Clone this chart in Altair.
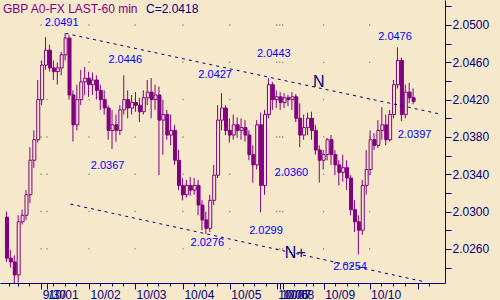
import altair as alt
import pandas as pd
import itertools

# ---------------- data (2-hour candles) ----------------
opens = [2.0294, 2.0250, 2.0246, 2.0232, 2.0289, 2.0296, 2.0318, 2.0355, 2.0377, 2.0420,
         2.0457, 2.0473, 2.0454, 2.0450, 2.0454, 2.0468, 2.0486, 2.0425, 2.0393, 2.0420,
         2.0439, 2.0443, 2.0436, 2.0441, 2.0430, 2.0420, 2.0411, 2.0387, 2.0393, 2.0387,
         2.0409, 2.0420, 2.0411, 2.0417, 2.0414, 2.0407, 2.0422, 2.0428, 2.0420, 2.0425,
         2.0398, 2.0404, 2.0382, 2.0387, 2.0355, 2.0328, 2.0318, 2.0328, 2.0323, 2.0328,
         2.0307, 2.0291, 2.0282, 2.0312, 2.0339, 2.0398, 2.0411, 2.0387, 2.0382, 2.0393,
         2.0387, 2.0390, 2.0382, 2.0361, 2.0350, 2.0393, 2.0328, 2.0404, 2.0436, 2.0420,
         2.0423, 2.0417, 2.0422, 2.0420, 2.0423, 2.0400, 2.0382, 2.0390, 2.0400, 2.0387,
         2.0366, 2.0355, 2.0361, 2.0377, 2.0361, 2.0350, 2.0342, 2.0347, 2.0336, 2.0302,
         2.0289, 2.0280, 2.0328, 2.0345, 2.0377, 2.0371, 2.0387, 2.0393, 2.0377, 2.0404,
         2.0436, 2.0462, 2.0404, 2.0428, 2.0422]
highs = [2.0300, 2.0259, 2.0253, 2.0296, 2.0302, 2.0323, 2.0369, 2.0387, 2.0441, 2.0462,
         2.0487, 2.0479, 2.0462, 2.0460, 2.0471, 2.0491, 2.0489, 2.0430, 2.0436, 2.0452,
         2.0455, 2.0450, 2.0449, 2.0446, 2.0436, 2.0430, 2.0414, 2.0409, 2.0404, 2.0414,
         2.0446, 2.0430, 2.0425, 2.0428, 2.0422, 2.0430, 2.0441, 2.0443, 2.0436, 2.0434,
         2.0420, 2.0409, 2.0404, 2.0393, 2.0366, 2.0336, 2.0334, 2.0337, 2.0336, 2.0334,
         2.0312, 2.0300, 2.0318, 2.0350, 2.0414, 2.0427, 2.0414, 2.0400, 2.0404, 2.0401,
         2.0400, 2.0398, 2.0387, 2.0371, 2.0398, 2.0406, 2.0409, 2.0443, 2.0439, 2.0430,
         2.0428, 2.0427, 2.0425, 2.0428, 2.0426, 2.0416, 2.0404, 2.0406, 2.0407, 2.0393,
         2.0371, 2.0366, 2.0379, 2.0382, 2.0366, 2.0355, 2.0361, 2.0355, 2.0339, 2.0312,
         2.0296, 2.0334, 2.0366, 2.0387, 2.0384, 2.0398, 2.0412, 2.0404, 2.0409, 2.0441,
         2.0476, 2.0465, 2.0436, 2.0438, 2.0432]
lows = [2.0246, 2.0240, 2.0223, 2.0224, 2.0286, 2.0291, 2.0309, 2.0347, 2.0374, 2.0414,
        2.0452, 2.0450, 2.0441, 2.0436, 2.0446, 2.0462, 2.0420, 2.0375, 2.0387, 2.0414,
        2.0425, 2.0423, 2.0425, 2.0420, 2.0409, 2.0404, 2.0377, 2.0367, 2.0375, 2.0382,
        2.0404, 2.0400, 2.0404, 2.0407, 2.0396, 2.0404, 2.0414, 2.0400, 2.0409, 2.0339,
        2.0361, 2.0377, 2.0371, 2.0350, 2.0323, 2.0312, 2.0315, 2.0317, 2.0318, 2.0296,
        2.0280, 2.0276, 2.0278, 2.0307, 2.0336, 2.0387, 2.0382, 2.0374, 2.0377, 2.0379,
        2.0377, 2.0375, 2.0355, 2.0331, 2.0345, 2.0299, 2.0318, 2.0400, 2.0409, 2.0411,
        2.0409, 2.0411, 2.0413, 2.0409, 2.0396, 2.0369, 2.0377, 2.0382, 2.0377, 2.0361,
        2.0331, 2.0345, 2.0355, 2.0350, 2.0339, 2.0328, 2.0332, 2.0323, 2.0296, 2.0278,
        2.0254, 2.0275, 2.0318, 2.0339, 2.0366, 2.0368, 2.0377, 2.0371, 2.0375, 2.0400,
        2.0432, 2.0397, 2.0400, 2.0416, 2.0415]
closes = [2.0250, 2.0246, 2.0232, 2.0289, 2.0296, 2.0318, 2.0355, 2.0377, 2.0420, 2.0457,
          2.0473, 2.0454, 2.0450, 2.0454, 2.0468, 2.0486, 2.0425, 2.0393, 2.0420, 2.0439,
          2.0443, 2.0436, 2.0441, 2.0430, 2.0420, 2.0411, 2.0387, 2.0393, 2.0387, 2.0409,
          2.0420, 2.0411, 2.0417, 2.0414, 2.0407, 2.0422, 2.0428, 2.0420, 2.0425, 2.0398,
          2.0404, 2.0382, 2.0387, 2.0355, 2.0328, 2.0318, 2.0328, 2.0323, 2.0328, 2.0307,
          2.0291, 2.0282, 2.0312, 2.0339, 2.0398, 2.0411, 2.0387, 2.0382, 2.0393, 2.0387,
          2.0390, 2.0382, 2.0361, 2.0350, 2.0393, 2.0328, 2.0404, 2.0436, 2.0420, 2.0423,
          2.0417, 2.0422, 2.0420, 2.0423, 2.0400, 2.0382, 2.0390, 2.0400, 2.0387, 2.0366,
          2.0355, 2.0361, 2.0377, 2.0361, 2.0350, 2.0342, 2.0347, 2.0336, 2.0302, 2.0289,
          2.0280, 2.0328, 2.0345, 2.0377, 2.0371, 2.0387, 2.0393, 2.0377, 2.0404, 2.0436,
          2.0462, 2.0404, 2.0428, 2.0422, 2.0418]
hours = list(range(1, 2 * len(closes), 2))  # bar time index (hours)

# x-axis: day boundaries (bar-hour index) and their labels, plus 6-hour minor ticks
day_t = [18.5, 21.5, 43, 66.5, 91, 115, 139, 140.5, 142, 163, 186.5, 211]
day_labels = ["9/30", "10/01", "10/02", "10/03", "10/04", "10/05", "10/06", "10/07",
              "10/08", "10/09", "10/10", ""]
minor_t = [2, 6.5, 12.5, 24.5, 30.5, 36.5, 48.5, 54.5, 60.5, 72.5, 78.5, 84.5,
           96.5, 102.5, 108.5, 121.5, 127.5, 133.5, 148, 154, 157.5, 169, 175, 180.5,
           192.5, 198.5, 204.5, 217]
grid_days = day_t[:-1]

# y-axis ticks
y_major = [2.0260, 2.0300, 2.0340, 2.0380, 2.0420, 2.0460, 2.0500]
y_ticks = [2.0240, 2.0260, 2.0280, 2.0300, 2.0320, 2.0340, 2.0360, 2.0380,
           2.0400, 2.0420, 2.0440, 2.0460, 2.0480, 2.0500, 2.0520]

# annotations (text, hour position, price position)
ann_text = ["2.0491", "2.0446", "2.0427", "2.0443", "2.0476", "2.0397",
            "2.0367", "2.0276", "2.0360", "2.0299", "2.0254"]
ann_t = [29, 61.5, 107.5, 137.5, 199.5, 209.5, 52.5, 103.5, 146.5, 133.5, 176.5]
ann_p = [2.0502, 2.04625, 2.04464, 2.04689, 2.04871, 2.03821,
         2.03488, 2.02663, 2.03413, 2.02792, 2.02406]
wave_text = ["N", "N+"]
wave_t = [160.5, 148.5]
wave_p = [2.04389, 2.02556]

# trend channel lines
trend_id = ["upper", "upper", "lower", "lower"]
trend_t = [31, 221.5, 33.5, 214]
trend_p = [2.0491, 2.0405, 2.0308, 2.0225]

# ---------------- styling ----------------
BG = "#F6E8CB"
PURPLE = "#800080"
NAVY = "#000080"
BLUE = "#0000FF"
FONT = "Liberation Sans"

df = pd.DataFrame({"t": hours, "open": opens, "high": highs, "low": lows, "close": closes})
ann = pd.DataFrame({"label": ann_text, "t": ann_t, "p": ann_p})
wav = pd.DataFrame({"label": wave_text, "t": wave_t, "p": wave_p})
trend = pd.DataFrame({"id": trend_id, "t": trend_t, "p": trend_p})
dots = pd.DataFrame(list(itertools.product(grid_days, y_major)), columns=["t", "p"])

xs = alt.Scale(domain=[0, 222.5], nice=False, zero=False)
ys = alt.Scale(domain=[2.02234, 2.05268], nice=False, zero=False)

label_expr = " : ".join(f"datum.value == {t} ? '{l}'" for t, l in zip(day_t, day_labels)) + " : ''"
major_test = " || ".join(f"datum.value == {t}" for t in day_t)

x_axis = alt.Axis(
    values=sorted(day_t + minor_t), labelExpr=label_expr,
    tickSize={"condition": {"test": major_test, "value": 6}, "value": 3},
    labelAlign="left", labelBaseline="top", labelOffset=1, labelPadding=0,
    labelFontSize=12, labelFont=FONT, labelColor=NAVY,
    domainColor=NAVY, tickColor=NAVY, grid=False, title=None,
    labelOverlap=False, labelFlush=False, labelBound=False,
)
y_axis = alt.Axis(
    orient="right", values=y_ticks,
    labelExpr="round(datum.value*1000) % 4 == 2 ? format(datum.value, '.4f') : ''",
    tickSize=6, labelPadding=1, labelFontSize=12, labelFont=FONT, labelColor=NAVY,
    domainColor=NAVY, tickColor=NAVY, grid=False, title=None,
    labelOverlap=False, labelFlush=False, labelBound=False,
)


def X(field):
    return alt.X(field, scale=xs, axis=x_axis)


def Y(field):
    return alt.Y(field, scale=ys, axis=y_axis)


grid = alt.Chart(dots).mark_square(size=2, color="#9A9080", opacity=1).encode(
    x=X("t:Q"), y=Y("p:Q"),
)

wicks = alt.Chart(df).mark_rule(color=PURPLE, strokeWidth=1, xOffset=-0.5, clip=True).encode(
    x=X("t:Q"), y=Y("low:Q"), y2="high:Q",
)

bodies = alt.Chart(df).mark_bar(size=3, stroke=PURPLE, strokeWidth=1, clip=True).encode(
    x=X("t:Q"), y=Y("open:Q"), y2="close:Q",
    fill=alt.condition("datum.close >= datum.open", alt.value(BG), alt.value(PURPLE)),
)

lines = alt.Chart(trend).mark_line(color=NAVY, strokeWidth=1, strokeDash=[3, 4], clip=True).encode(
    x=X("t:Q"), y=Y("p:Q"), detail="id:N",
)

ann_layer = alt.Chart(ann).mark_text(color=BLUE, font=FONT, fontSize=11, align="center",
                                     baseline="middle").encode(
    x=X("t:Q"), y=Y("p:Q"), text="label:N",
)

wave_layer = alt.Chart(wav).mark_text(color=NAVY, font=FONT, fontSize=16, align="center",
                                      baseline="middle").encode(
    x=X("t:Q"), y=Y("p:Q"), text="label:N",
)

title1 = alt.Chart(pd.DataFrame({"s": ["GBP A0-FX LAST-60 min"]})).mark_text(
    color=PURPLE, font=FONT, fontSize=12, align="left", baseline="alphabetic").encode(
    x=alt.value(3), y=alt.value(13), text="s:N")
title2 = alt.Chart(pd.DataFrame({"s": ["C=2.0418"]})).mark_text(
    color=NAVY, font=FONT, fontSize=12, align="left", baseline="alphabetic").encode(
    x=alt.value(146), y=alt.value(13), text="s:N")

chart = alt.layer(grid, wicks, bodies, lines, ann_layer, wave_layer, title1, title2).properties(
    width=445, height=283,
    padding={"left": 0, "top": 0, "right": 55, "bottom": 17},
    autosize=alt.AutoSizeParams(type="none"),
    background=BG,
).configure_view(stroke=None)

chart.save("out.html", embed_options={"renderer": "svg", "actions": False})
